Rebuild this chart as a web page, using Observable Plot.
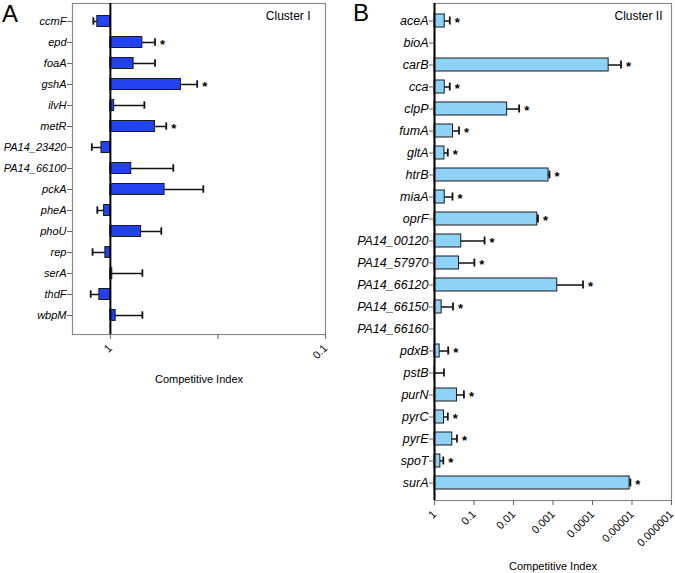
<!DOCTYPE html>
<html>
<head>
<meta charset="utf-8">
<script src="https://cdn.jsdelivr.net/npm/d3@7"></script>
<script src="https://cdn.jsdelivr.net/npm/@observablehq/plot@0.6"></script>
<style>
  html, body { margin: 0; padding: 0; background: #fff; }
  #wrap { position: relative; width: 675px; height: 573px; font-family: "Liberation Sans", Arial, sans-serif; }
  .panel { position: absolute; top: 0; }
  .plabel { position: absolute; font-size: 24px; color: #000; }
  [aria-label="y-axis tick label"] text { font-style: italic; }
</style>
</head>
<body>
<div id="wrap">
  <div id="pa" class="panel" style="left:0px"></div>
  <div id="pb" class="panel" style="left:330px"></div>
  <div class="plabel" style="left:2px;top:0px">A</div>
  <div class="plabel" style="left:353px;top:-1px">B</div>
</div>
<script>
// ---------- Panel A : Cluster I ----------
const genesA = ["ccmF","epd","foaA","gshA","ilvH","metR","PA14_23420","PA14_66100","pckA","pheA","phoU","rep","serA","thdF","wbpM"];
const ciA    = [1.15, 0.71, 0.78, 0.47, 0.96, 0.62, 1.10, 0.80, 0.56, 1.07, 0.72, 1.055, 0.98, 1.125, 0.945];
const errA   = [1.20, 0.62, 0.62, 0.395, 0.695, 0.55, 1.22, 0.51, 0.37, 1.15, 0.58, 1.21, 0.71, 1.235, 0.71];
const sigA   = [false, true, false, true, false, true, false, false, false, false, false, false, false, false, false];
const ticksA = [1, 0.316, 0.1];
const tickLabelsA = ["1", "", "0.1"];

// ---------- Panel B : Cluster II ----------
const genesB = ["aceA","bioA","carB","cca","clpP","fumA","gltA","htrB","miaA","oprF","PA14_00120","PA14_57970","PA14_66120","PA14_66150","PA14_66160","pdxB","pstB","purN","pyrC","pyrE","spoT","surA"];
const ciB    = [0.55, null, 3.9e-5, 0.55, 0.0145, 0.34, 0.56, 0.0013, 0.55, 0.0025, 0.21, 0.24, 0.00078, 0.66, null, 0.74, 0.99, 0.27, 0.575, 0.355, 0.71, 1.15e-5];
const errB   = [0.41, null, 1.9e-5, 0.41, 0.0072, 0.24, 0.46, 0.00123, 0.35, 0.0024, 0.054, 0.098, 0.000174, 0.34, null, 0.45, 0.575, 0.18, 0.46, 0.27, 0.60, 1.1e-5];
const sigB   = [true, false, true, true, true, true, true, true, true, true, true, true, true, true, false, true, false, true, true, true, true, true];
const ticksB = [1, 0.1, 0.01, 0.001, 0.0001, 0.00001, 0.000001];
const tickLabelsB = ["1", "0.1", "0.01", "0.001", "0.0001", "0.00001", "0.000001"];

function rows(genes, ci, err, sig) {
  return genes.map((g, i) => ({gene: g, ci: ci[i], err: err[i], sig: sig[i]})).filter(d => d.ci != null);
}

function panel({genes, data, ticks, tickLabels, domain, width, height, ml, mr, mt, mb, fill, cluster, fontSize, pad, inset, capInset, labelOffset, clusterDx}) {
  const fmt = new Map(ticks.map((t, i) => [t, tickLabels[i]]));
  return Plot.plot({
    width, height,
    marginLeft: ml, marginRight: mr, marginTop: mt, marginBottom: mb,
    style: {fontFamily: "Liberation Sans, Arial, sans-serif", fontSize: fontSize + "px", color: "#000", background: "#fff"},
    x: {type: "log", domain},
    y: {type: "band", domain: genes, padding: pad},
    marks: [
      Plot.frame({stroke: "#8a8a8a", strokeWidth: 1.2}),
      Plot.barX(data, {y: "gene", x1: 1, x2: "ci", fill, stroke: "#1a1a1a", strokeWidth: 1, insetTop: inset, insetBottom: inset}),
      Plot.ruleY(data, {y: "gene", x1: "ci", x2: "err", stroke: "#111", strokeWidth: 1.5}),
      Plot.tickX(data, {y: "gene", x: "err", stroke: "#111", strokeWidth: 1.8, insetTop: capInset, insetBottom: capInset}),
      Plot.text(data.filter(d => d.sig), {y: "gene", x: "err", text: () => "*", textAnchor: "start", dx: 5, dy: 2, fontSize: 13, fontWeight: "bold"}),
      Plot.ruleX([1], {stroke: "#000", strokeWidth: 2}),
      Plot.axisY({tickSize: 5, stroke: "#666", tickPadding: 1, fontSize: fontSize, label: null}),
      Plot.axisX({ticks, tickFormat: d => fmt.get(d) ?? "", tickSize: 5, tickRotate: -45, fontSize: 11, stroke: "#666",
                  label: "Competitive Index", labelAnchor: "center", labelArrow: "none", labelOffset}),
      Plot.text([cluster], {frameAnchor: "top-right", dx: clusterDx, dy: 8, fontSize: 12, lineAnchor: "top"})
    ]
  });
}

document.getElementById("pa").appendChild(panel({
  genes: genesA, data: rows(genesA, ciA, errA, sigA), ticks: ticksA, tickLabels: tickLabelsA,
  domain: [1.5, 0.1], width: 335, height: 392, ml: 72, mr: 10, mt: 3, mb: 58,
  fill: "#2142ee", cluster: "Cluster I", fontSize: 11, pad: 0.32, inset: 1.5, capInset: 3.3, labelOffset: 48, clusterDx: -15
}));

document.getElementById("pb").appendChild(panel({
  genes: genesB, data: rows(genesB, ciB, errB, sigB), ticks: ticksB, tickLabels: tickLabelsB,
  domain: [1, 0.000001], width: 345, height: 573, ml: 104, mr: 4, mt: 3, mb: 73,
  fill: "#8ed3f7", cluster: "Cluster II", fontSize: 12.5, pad: 0.42, inset: 0, capInset: 2.5, labelOffset: 69, clusterDx: -9
}));
</script>
</body>
</html>
